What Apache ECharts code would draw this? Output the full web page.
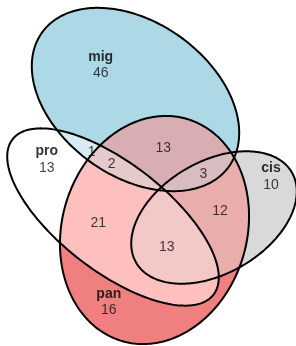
<!DOCTYPE html>
<html>
<head>
<meta charset="utf-8">
<script src="https://cdn.jsdelivr.net/npm/echarts@6/dist/echarts.min.js"></script>
<style>
html, body { margin: 0; padding: 0; background: #fff; }
#venn { width: 296px; height: 346px; }
</style>
</head>
<body>
<div id="venn"></div>
<script>
// sets and their fills
var setNames = ['mig', 'pro', 'cis', 'pan'];
var setFills = ['#ADD8E6', '#FFFFFF', '#D9D9D9', '#F08080'];
// ellipse fit for each set: centre, semi axes, rotation (deg)
var ellCx = [135.5, 113, 214, 154.5];
var ellCy = [99.5, 217, 217.5, 230];
var ellA = [115, 127, 90, 115.7];
var ellB = [77, 54, 56, 92.5];
var ellRot = [35.6, 37.7, -30.1, -73.7];

// regions (set index lists), counts and where the label sits
var regionSets = [[0], [1], [2], [3], [0, 1], [0, 1, 3], [0, 3], [0, 2, 3], [2, 3], [1, 2, 3], [1, 3]];
var regionCounts = [46, 13, 10, 16, 1, 2, 13, 3, 12, 13, 21];
var labelX = [100.7, 46.7, 271, 108.8, 91.7, 111.7, 163.3, 203.3, 220, 166.7, 98.3];
var labelY = [65, 159.7, 176.7, 302.2, 152.3, 164.3, 148.3, 174.3, 210.7, 246.7, 223.3];

var FONT = 'Liberation Sans, Arial, sans-serif';

// every combination of sets, smallest first, so deeper overlaps paint last
var fillSets = [];
for (var mask = 1; mask < 16; mask++) {
    var m = [];
    for (var b = 0; b < 4; b++) if (mask & (1 << b)) m.push(b);
    fillSets.push(m);
}
fillSets.sort(function (a, b) { return a.length - b.length; });

// colour mixing in CIELAB
function toLab(hex) {
    var rgb = [1, 3, 5].map(function (o) {
        var c = parseInt(hex.substr(o, 2), 16) / 255;
        return c <= 0.04045 ? c / 12.92 : Math.pow((c + 0.055) / 1.055, 2.4);
    });
    var X = (0.4124 * rgb[0] + 0.3576 * rgb[1] + 0.1805 * rgb[2]) / 0.95047;
    var Y = 0.2126 * rgb[0] + 0.7152 * rgb[1] + 0.0722 * rgb[2];
    var Z = (0.0193 * rgb[0] + 0.1192 * rgb[1] + 0.9505 * rgb[2]) / 1.08883;
    var f = function (t) { return t > 0.008856 ? Math.cbrt(t) : 7.787 * t + 16 / 116; };
    return [116 * f(Y) - 16, 500 * (f(X) - f(Y)), 200 * (f(Y) - f(Z))];
}
function fromLab(lab) {
    var fy = (lab[0] + 16) / 116, fx = fy + lab[1] / 500, fz = fy - lab[2] / 200;
    var inv = function (t) { return t > 0.206893 ? t * t * t : (t - 16 / 116) / 7.787; };
    var X = inv(fx) * 0.95047, Y = inv(fy), Z = inv(fz) * 1.08883;
    var lin = [
        3.2406 * X - 1.5372 * Y - 0.4986 * Z,
        -0.9689 * X + 1.8758 * Y + 0.0415 * Z,
        0.0557 * X - 0.2040 * Y + 1.0570 * Z
    ];
    var out = lin.map(function (c) {
        c = c <= 0.0031308 ? 12.92 * c : 1.055 * Math.pow(c, 1 / 2.4) - 0.055;
        return Math.max(0, Math.min(255, Math.round(c * 255)));
    });
    return 'rgb(' + out.join(',') + ')';
}
function mixColor(members) {
    var acc = [0, 0, 0];
    members.forEach(function (i) {
        var l = toLab(setFills[i]);
        acc[0] += l[0]; acc[1] += l[1]; acc[2] += l[2];
    });
    var n = members.length;
    return fromLab([acc[0] / n, acc[1] / n, acc[2] / n]);
}

function ellipsePoints(i, api) {
    var pts = [];
    var t = ellRot[i] * Math.PI / 180, c = Math.cos(t), s = Math.sin(t);
    for (var k = 0; k < 240; k++) {
        var p = k / 240 * 2 * Math.PI;
        var u = ellA[i] * Math.cos(p), v = ellB[i] * Math.sin(p);
        pts.push(api.coord([ellCx[i] + u * c - v * s, ellCy[i] + u * s + v * c]));
    }
    return pts;
}

var chart = echarts.init(document.getElementById('venn'));
var option = {
    animation: false,
    grid: { left: 0, right: 0, top: 0, bottom: 0 },
    xAxis: { type: 'value', min: 0, max: 296, show: false },
    yAxis: { type: 'value', min: 0, max: 346, inverse: true, show: false },
    series: [
        {
            // region fills
            type: 'custom',
            silent: true,
            data: fillSets.map(function (s, i) { return [i, 0]; }),
            renderItem: function (params, api) {
                var members = fillSets[params.dataIndex];
                var el = {
                    type: 'polygon',
                    shape: { points: ellipsePoints(members[0], api) },
                    style: { fill: mixColor(members), stroke: null }
                };
                for (var j = 1; j < members.length; j++) {
                    el = {
                        type: 'group',
                        clipPath: { type: 'polygon', shape: { points: ellipsePoints(members[j], api) } },
                        children: [el]
                    };
                }
                return el;
            }
        },
        {
            // outlines
            type: 'custom',
            silent: true,
            data: setNames.map(function (n, i) { return [i, 0]; }),
            renderItem: function (params, api) {
                return {
                    type: 'polygon',
                    shape: { points: ellipsePoints(params.dataIndex, api) },
                    style: { fill: 'none', stroke: '#000', lineWidth: 2 }
                };
            }
        },
        {
            type: 'scatter',
            symbolSize: 0,
            silent: true,
            data: labelX.map(function (x, i) { return [x, labelY[i]]; }),
            label: {
                show: true,
                position: 'inside',
                formatter: function (p) {
                    var s = regionSets[p.dataIndex];
                    var c = '{c|' + regionCounts[p.dataIndex] + '}';
                    return s.length === 1 ? '{n|' + setNames[s[0]] + '}\n' + c : c;
                },
                rich: {
                    n: { fontFamily: FONT, fontSize: 14, fontWeight: 'bold', color: '#000', lineHeight: 16.5 },
                    c: { fontFamily: FONT, fontSize: 14, color: '#111', lineHeight: 16.5 }
                }
            }
        }
    ]
};
chart.setOption(option);
</script>
</body>
</html>
